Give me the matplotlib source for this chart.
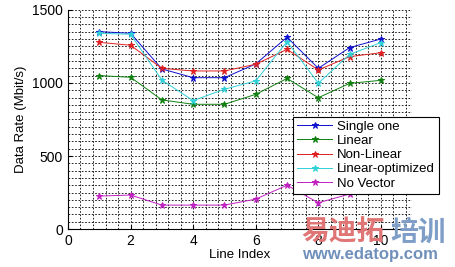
import numpy as np
import matplotlib.pyplot as plt
from matplotlib.ticker import MultipleLocator

plt.rcParams["font.family"] = ["Liberation Sans", "DejaVu Sans"]

line_index = [1, 2, 3, 4, 5, 6, 7, 8, 9, 10]
single_one = [1351, 1340, 1096, 1036, 1036, 1130, 1313, 1100, 1242, 1301]
linear = [1050, 1039, 884, 854, 854, 922, 1031, 899, 997, 1018]
non_linear = [1278, 1258, 1100, 1082, 1082, 1128, 1230, 1089, 1180, 1207]
linear_opt = [1340, 1333, 1020, 879, 957, 1014, 1283, 998, 1196, 1276]
no_vector = [226, 233, 164, 164, 164, 205, 300, 180, 240, 260]

series = [("Single one", single_one, "#1010d0"),
          ("Linear", linear, "#108010"),
          ("Non-Linear", non_linear, "#e02020"),
          ("Linear-optimized", linear_opt, "#30d0d8"),
          ("No Vector", no_vector, "#c020c0")]

fig = plt.figure(figsize=(4.56, 2.67), dpi=100)
ax = fig.add_axes([0.149, 0.142, 0.755, 0.821])

for name, vals, c in series:
    ax.plot(line_index, vals, '-*', color=c, lw=0.7, ms=4.5, mew=0.7, label=name)

ax.set_xlim(0, 11)
ax.set_ylim(0, 1500)
ax.xaxis.set_major_locator(MultipleLocator(2))
ax.xaxis.set_minor_locator(MultipleLocator(0.4))
ax.yaxis.set_major_locator(MultipleLocator(500))
ax.yaxis.set_minor_locator(MultipleLocator(50))
ax.grid(which='both', color='k', linestyle=(0, (2, 2)), linewidth=0.6)
ax.set_axisbelow(True)
ax.spines['top'].set_visible(False)
ax.spines['right'].set_visible(False)
ax.tick_params(which='both', direction='in', labelsize=10, length=3)
ax.tick_params(which='minor', length=0)
ax.set_xlabel("Line Index", fontsize=9.5, labelpad=1)
ax.set_ylabel("Data Rate (Mbit/s)", fontsize=9.5, labelpad=4)

leg = ax.legend(loc='upper left', bbox_to_anchor=(0.629, 0.588),
                bbox_transform=fig.transFigure, fontsize=9.5, fancybox=False,
                framealpha=1, edgecolor='k', handlelength=2.6,
                borderpad=0.3, labelspacing=0.15, handletextpad=0.4)
leg.get_frame().set_linewidth(0.8)

# watermark
fig.text(0.662, 0.13, "易迪拓", color="#e07575", fontsize=20, fontweight='bold',
         family=["Noto Sans CJK SC"], va='center', ha='left')
fig.text(0.856, 0.13, "培训", color="#7e9ec8", fontsize=20, fontweight='bold',
         family=["Noto Sans CJK SC"], va='center', ha='left')
fig.text(0.662, 0.045, "www.edatop.com", color="#7090bb", fontsize=12,
         fontweight='bold', va='center', ha='left')

fig.savefig("out.png", dpi=100)
